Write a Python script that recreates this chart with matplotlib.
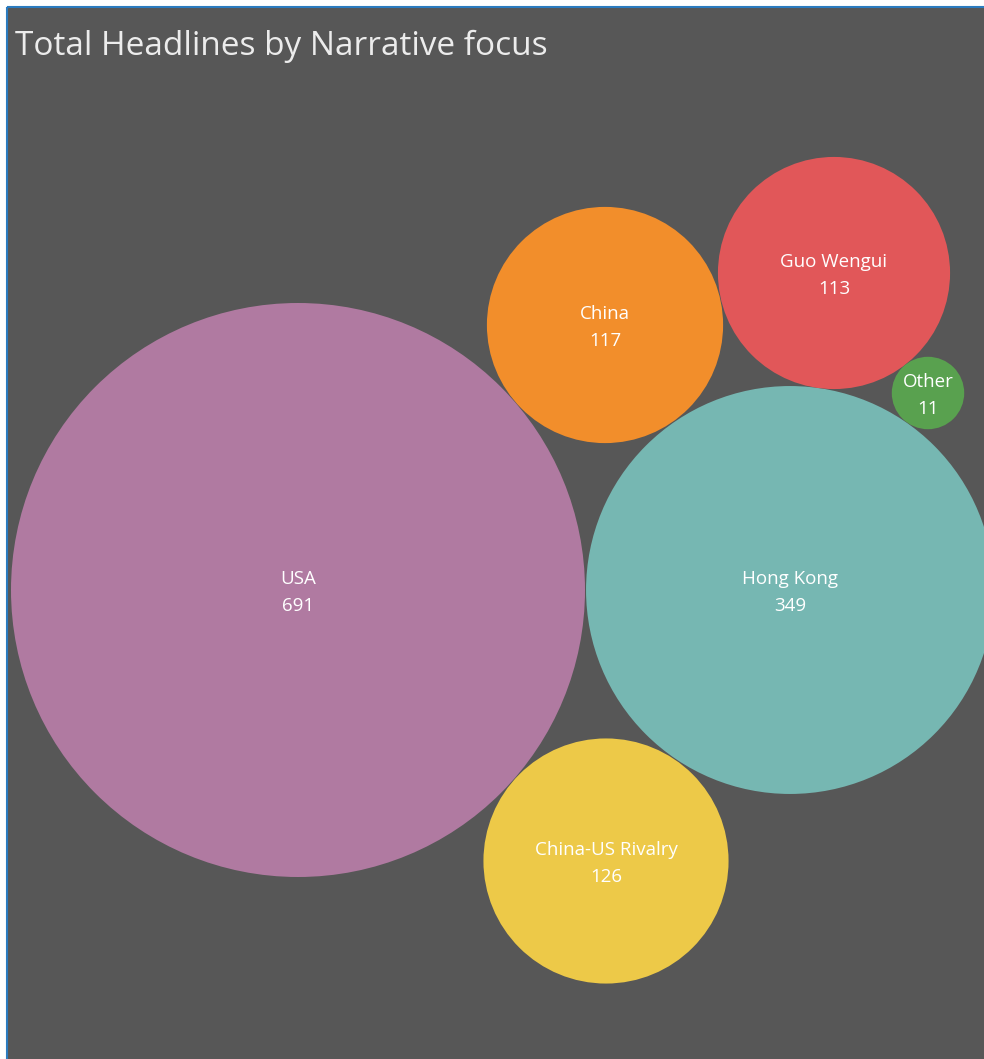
import matplotlib.pyplot as plt
from matplotlib.patches import Circle
from matplotlib.lines import Line2D
import numpy as np

# data
categories = ["USA", "Hong Kong", "China-US Rivalry", "China", "Guo Wengui", "Other"]
headlines = [691, 349, 126, 117, 113, 11]
colors = ["#b07aa1", "#76b7b2", "#edc948", "#f28e2b", "#e15759", "#59a14f"]

# bubble layout (pixel space of the canvas)
centers_x = [298, 790, 606, 605, 834, 928]
centers_y = [590, 590, 861, 325, 273, 393]
scale = 287 / np.sqrt(691)

W, H = 984, 1059
bg = "#575757"

fig = plt.figure(figsize=(W / 100, H / 100), dpi=100, facecolor="white")
left, top = 8, 8
ax = fig.add_axes([left / W, 0, (W - left) / W, (H - top) / H])
ax.set_facecolor(bg)
ax.set_xlim(left, W)
ax.set_ylim(H, top)
ax.set_aspect("auto")
ax.axis("off")
ax.add_patch(plt.Rectangle((left, top), W - left, H - top, color=bg, zorder=0))

for cat, val, col, cx, cy in zip(categories, headlines, colors, centers_x, centers_y):
    r = scale * np.sqrt(val)
    ax.add_patch(Circle((cx, cy), r, color=col, ec="none", zorder=2))
    ax.text(cx, cy + 2.5, f"{cat}\n{val}", ha="center", va="center", color="white",
            fontsize=13.5, family="Open Sans", linespacing=1.7, zorder=3)

ax.text(15, 46, "Total Headlines by Narrative focus", ha="left", va="center",
        color="#ececec", fontsize=24, family="Open Sans", zorder=3)

# thin blue frame lines on top and left
fig.add_artist(Line2D([left / W - 0.0008, left / W - 0.0008], [0, 1 - top / H],
                      color="#2b7bbf", lw=1.5))
fig.add_artist(Line2D([left / W, 1], [1 - top / H + 0.0008, 1 - top / H + 0.0008],
                      color="#2b7bbf", lw=1.5))

fig.savefig("out.png", dpi=100, facecolor="white")
